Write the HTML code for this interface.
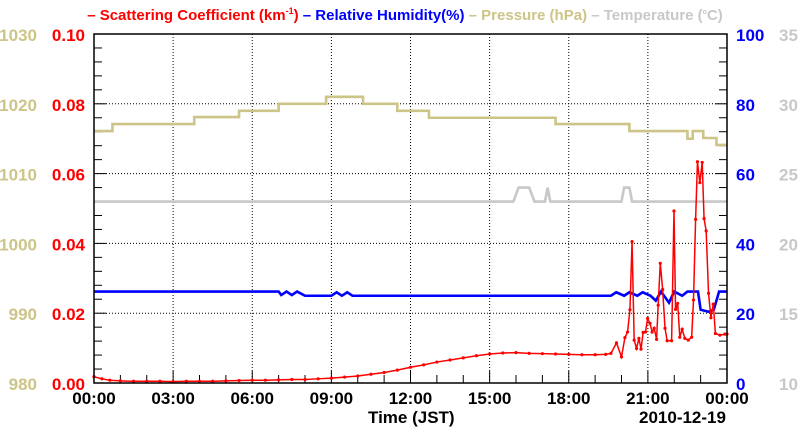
<!DOCTYPE html>
<html><head><meta charset="utf-8"><style>
body{margin:0;background:#fff}
svg{display:block;font-family:"Liberation Sans",sans-serif}
</style></head><body>
<svg id="c" width="800" height="434" viewBox="0 0 800 434"></svg>
<script>
// ---- data ----
var scatT=[0,0.3,0.6,1,1.5,2,2.5,3,3.5,4,4.5,5,5.5,6,6.5,7,7.5,8,8.5,9,9.5,10,10.5,11,11.5,12,12.5,13,13.5,14,14.5,15,15.5,16,16.5,17,17.5,18,18.5,19,19.4,19.6,19.81,20,20.13,20.23,20.32,20.4,20.48,20.57,20.66,20.74,20.82,20.91,20.99,21.08,21.16,21.24,21.33,21.39,21.47,21.56,21.65,21.73,21.9,21.99,22.05,22.13,22.21,22.3,22.4,22.53,22.66,22.73,22.81,22.88,22.97,23.06,23.13,23.21,23.3,23.39,23.48,23.56,23.73,23.92,24];
var scatV=[0.0018,0.0012,0.0008,0.0006,0.0005,0.0005,0.0005,0.0004,0.0005,0.0005,0.0005,0.0006,0.0007,0.0008,0.0008,0.0009,0.001,0.001,0.0012,0.0014,0.0017,0.002,0.0025,0.003,0.0037,0.0045,0.0052,0.006,0.0066,0.0072,0.0078,0.0083,0.0086,0.0087,0.0085,0.0084,0.0083,0.0082,0.0081,0.0081,0.0082,0.0085,0.0115,0.0075,0.013,0.0146,0.021,0.0405,0.0123,0.0099,0.0128,0.0097,0.0145,0.0146,0.0185,0.0171,0.0146,0.0157,0.0125,0.0223,0.0343,0.0268,0.0157,0.0121,0.0121,0.0493,0.0211,0.0228,0.0131,0.0154,0.0128,0.0123,0.0131,0.0238,0.0469,0.0634,0.0574,0.0632,0.0471,0.0436,0.0257,0.0187,0.0226,0.0142,0.0137,0.014,0.014];
var rhT=[0,7,7.1,7.3,7.5,7.7,8,9,9.2,9.4,9.6,9.8,10,19.6,19.8,20.1,20.3,20.6,20.8,21.1,21.3,21.5,21.8,22,22.3,22.5,22.9,23.0,23.3,23.5,23.7,24];
var rhV=[26.2,26.2,25.2,26.2,25.2,26.2,25.0,25.0,26.0,25.0,26.0,25.0,25.0,25.0,26.0,25.0,26.0,25.0,26.0,25.0,23.6,26.2,23.0,26.2,25.0,26.2,26.2,21.0,20.4,21.0,26.2,26.2];
var presT=[0,0.7,3.8,5.5,7.0,8.8,10.2,11.5,12.7,17.5,20.3,22.5,22.7,23.1,23.6,24];
var presV=[1016.1,1017.1,1018.1,1019.0,1020.0,1021.0,1020.0,1019.0,1018.0,1017.1,1016.1,1015.0,1016.1,1015.1,1014.1,1014.1];
var tempT=[0,15.9,16.1,16.5,16.7,17.1,17.2,17.3,20.0,20.1,20.3,20.4,24];
var tempV=[23.0,23.0,24.0,24.0,23.0,23.0,24.0,23.0,23.0,24.0,24.0,23.0,23.0];
var xTicks=["00:00","03:00","06:00","09:00","12:00","15:00","18:00","21:00","00:00"];
var scatTicks=["0.00","0.02","0.04","0.06","0.08","0.10"];
var presTicks=["980","990","1000","1010","1020","1030"];
var rhTicks=["0","20","40","60","80","100"];
var tempTicks=["10","15","20","25","30","35"];
// ---- scales ----
var L=94,R=727,T=34,B=383;
function X(t){return L+(R-L)*t/24;}
function Ys(v){return B-(B-T)*v/0.1;}
function Yp(v){return B-(B-T)*(v-980)/50;}
function Yr(v){return B-(B-T)*v/100;}
function Yt(v){return B-(B-T)*(v-10)/25;}
var svg=document.getElementById('c'),NS='http://www.w3.org/2000/svg';
function el(tag,a,parent){var e=document.createElementNS(NS,tag);for(var k in a)e.setAttribute(k,a[k]);(parent||svg).appendChild(e);return e;}
function txt(s,a){var e=el('text',a);e.textContent=s;return e;}
// grid
for(var i=1;i<8;i++){var g=el('line',{x1:X(i*3),x2:X(i*3),y1:T,y2:B,stroke:'#000','stroke-width':1,'stroke-dasharray':'1,2'});

}
for(var j=1;j<5;j++){var g2=el('line',{x1:L,x2:R,y1:Ys(j*0.02),y2:Ys(j*0.02),stroke:'#000','stroke-width':1,'stroke-dasharray':'1,2'});

}
// ticks
for(var k=0;k<=25;k++){var y=T+(B-T)*k/25,w=(k%5==0)?12:8;
var t1=el('line',{x1:L,x2:L+w,y1:y,y2:y,stroke:'#000','stroke-width':1});

var t2=el('line',{x1:R,x2:R-w,y1:y,y2:y,stroke:'#000','stroke-width':1});
}
for(var h=0;h<=24;h++){var w2=(h%3==0)?12:8;
var t3=el('line',{x1:X(h),x2:X(h),y1:B,y2:B-w2,stroke:'#000','stroke-width':1});
}
// series
function stepPts(ts,vs,yf){var p=[];for(var i=0;i<ts.length;i++){p.push(X(ts[i])+','+yf(vs[i]));if(i<ts.length-1)p.push(X(ts[i+1])+','+yf(vs[i]));}return p.join(' ');}
var pl=el('polyline',{points:stepPts(presT,presV,Yp),fill:'none',stroke:'#cdc488','stroke-width':2.6});

var tl=el('polyline',{points:tempT.map(function(t,i){return X(t)+','+Yt(tempV[i]);}).join(' '),fill:'none',stroke:'#c8c8c8','stroke-width':2.6});

var rl=el('polyline',{points:rhT.map(function(t,i){return X(t)+','+Yr(rhV[i]);}).join(' '),fill:'none',stroke:'#0000ff','stroke-width':2.6});

var sl=el('polyline',{points:scatT.map(function(t,i){return X(t)+','+Ys(scatV[i]);}).join(' '),fill:'none',stroke:'#ff0000','stroke-width':1.5});

for(var m=0;m<scatT.length;m++){var c=el('circle',{cx:X(scatT[m]),cy:Ys(scatV[m]),r:1.6,fill:'#ff0000'});
}
// frame
var fr=el('rect',{x:L,y:T,width:R-L,height:B-T,fill:'none',stroke:'#000','stroke-width':1.5});

// labels
for(var a=0;a<6;a++){var yy=T+(B-T)*(5-a)/5+7;
var s1=txt(scatTicks[a],{x:85,y:yy,'text-anchor':'end','font-size':17,'font-weight':'bold',fill:'#ff0000'});

var s2=txt(presTicks[a],{x:37,y:yy,'text-anchor':'end','font-size':17,'font-weight':'bold',fill:'#cdc488'});

var s3=txt(rhTicks[a],{x:736,y:yy,'font-size':17,'font-weight':'bold',fill:'#0000ff'});

var s4=txt(tempTicks[a],{x:779,y:yy,'font-size':17,'font-weight':'bold',fill:'#c8c8c8'});
}
for(var b=0;b<xTicks.length;b++){var xl=txt(xTicks[b],{x:X(b*3),y:404,'text-anchor':'middle','font-size':17,'font-weight':'bold',fill:'#000'});
}
</script>
<div style="position:absolute;left:0;top:0;width:800px;height:434px;pointer-events:none;font-family:'Liberation Sans',sans-serif">
<div style="position:absolute;left:80px;width:650px;top:6px;text-align:center;font-size:15px;font-weight:bold;white-space:nowrap">
<span style="color:#ff0000">– Scattering Coefficient (km<sup style="font-size:9px">-1</sup>)</span>
<span style="color:#0000ff">– Relative Humidity(%)</span>
<span style="color:#cdc488">– Pressure (hPa)</span>
<span style="color:#c8c8c8">– Temperature (<sup style="font-size:7px">o</sup>C)</span>
</div>
<div style="position:absolute;left:368px;top:408px;font-size:17px;font-weight:bold">Time (JST)</div>
<div style="position:absolute;left:639px;top:408px;font-size:17px;font-weight:bold">2010-12-19</div>
</div>
</body></html>
